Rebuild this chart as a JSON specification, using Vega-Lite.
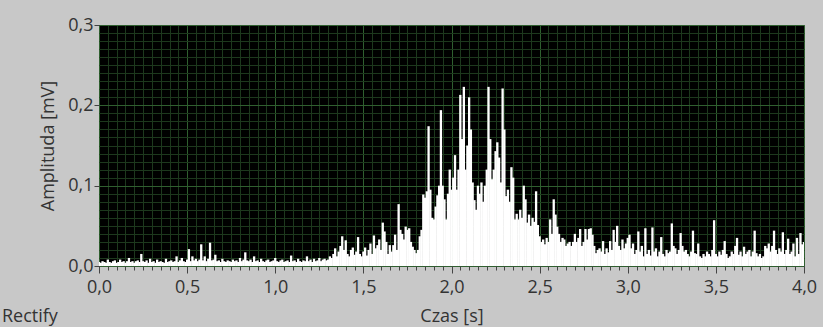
{
"$schema": "https://vega.github.io/schema/vega-lite/v6.json",
"width": 705, "height": 241,
"autosize": "none",
"padding": {"left": 99, "top": 25, "right": 19, "bottom": 61},
"background": "#c8c8c8",
"config": {"view": {"fill": "#000000", "stroke": null}, "font": "Open Sans"},
"title": {"text": "Rectify", "orient": "bottom", "anchor": "start", "frame": "group", "dx": -97, "dy": -21, "fontSize": 18, "fontWeight": "normal", "color": "#333333"},
"data": {"values": [
{"t":0.00,"a":0.005},{"t":0.01,"a":0.004},{"t":0.02,"a":0.006},{"t":0.03,"a":0.005},{"t":0.04,"a":0.004},{"t":0.05,"a":0.008},{"t":0.06,"a":0.005},{"t":0.07,"a":0.004},{"t":0.08,"a":0.006},{"t":0.09,"a":0.007},
{"t":0.10,"a":0.004},{"t":0.11,"a":0.005},{"t":0.12,"a":0.008},{"t":0.13,"a":0.005},{"t":0.14,"a":0.006},{"t":0.15,"a":0.004},{"t":0.16,"a":0.006},{"t":0.17,"a":0.010},{"t":0.18,"a":0.005},{"t":0.19,"a":0.006},
{"t":0.20,"a":0.004},{"t":0.21,"a":0.006},{"t":0.22,"a":0.007},{"t":0.23,"a":0.005},{"t":0.24,"a":0.015},{"t":0.25,"a":0.006},{"t":0.26,"a":0.005},{"t":0.27,"a":0.007},{"t":0.28,"a":0.004},{"t":0.29,"a":0.009},
{"t":0.30,"a":0.005},{"t":0.31,"a":0.006},{"t":0.32,"a":0.004},{"t":0.33,"a":0.008},{"t":0.34,"a":0.005},{"t":0.35,"a":0.006},{"t":0.36,"a":0.005},{"t":0.37,"a":0.004},{"t":0.38,"a":0.009},{"t":0.39,"a":0.005},
{"t":0.40,"a":0.006},{"t":0.41,"a":0.007},{"t":0.42,"a":0.005},{"t":0.43,"a":0.006},{"t":0.44,"a":0.012},{"t":0.45,"a":0.005},{"t":0.46,"a":0.007},{"t":0.47,"a":0.010},{"t":0.48,"a":0.006},{"t":0.49,"a":0.005},
{"t":0.50,"a":0.008},{"t":0.51,"a":0.021},{"t":0.52,"a":0.006},{"t":0.53,"a":0.012},{"t":0.54,"a":0.007},{"t":0.55,"a":0.009},{"t":0.56,"a":0.006},{"t":0.57,"a":0.008},{"t":0.58,"a":0.027},{"t":0.59,"a":0.007},
{"t":0.60,"a":0.012},{"t":0.61,"a":0.006},{"t":0.62,"a":0.009},{"t":0.63,"a":0.029},{"t":0.64,"a":0.007},{"t":0.65,"a":0.008},{"t":0.66,"a":0.014},{"t":0.67,"a":0.006},{"t":0.68,"a":0.007},{"t":0.69,"a":0.005},
{"t":0.70,"a":0.009},{"t":0.71,"a":0.006},{"t":0.72,"a":0.005},{"t":0.73,"a":0.007},{"t":0.74,"a":0.006},{"t":0.75,"a":0.005},{"t":0.76,"a":0.008},{"t":0.77,"a":0.006},{"t":0.78,"a":0.007},{"t":0.79,"a":0.005},
{"t":0.80,"a":0.010},{"t":0.81,"a":0.006},{"t":0.82,"a":0.008},{"t":0.83,"a":0.017},{"t":0.84,"a":0.007},{"t":0.85,"a":0.006},{"t":0.86,"a":0.008},{"t":0.87,"a":0.005},{"t":0.88,"a":0.012},{"t":0.89,"a":0.006},
{"t":0.90,"a":0.007},{"t":0.91,"a":0.005},{"t":0.92,"a":0.009},{"t":0.93,"a":0.006},{"t":0.94,"a":0.005},{"t":0.95,"a":0.007},{"t":0.96,"a":0.008},{"t":0.97,"a":0.005},{"t":0.98,"a":0.006},{"t":0.99,"a":0.007},
{"t":1.00,"a":0.010},{"t":1.01,"a":0.006},{"t":1.02,"a":0.005},{"t":1.03,"a":0.007},{"t":1.04,"a":0.008},{"t":1.05,"a":0.005},{"t":1.06,"a":0.006},{"t":1.07,"a":0.007},{"t":1.08,"a":0.005},{"t":1.09,"a":0.013},
{"t":1.10,"a":0.006},{"t":1.11,"a":0.007},{"t":1.12,"a":0.005},{"t":1.13,"a":0.009},{"t":1.14,"a":0.006},{"t":1.15,"a":0.005},{"t":1.16,"a":0.007},{"t":1.17,"a":0.006},{"t":1.18,"a":0.012},{"t":1.19,"a":0.006},
{"t":1.20,"a":0.008},{"t":1.21,"a":0.005},{"t":1.22,"a":0.009},{"t":1.23,"a":0.006},{"t":1.24,"a":0.007},{"t":1.25,"a":0.010},{"t":1.26,"a":0.006},{"t":1.27,"a":0.008},{"t":1.28,"a":0.009},{"t":1.29,"a":0.007},
{"t":1.30,"a":0.008},{"t":1.31,"a":0.012},{"t":1.32,"a":0.010},{"t":1.33,"a":0.015},{"t":1.34,"a":0.022},{"t":1.35,"a":0.012},{"t":1.36,"a":0.018},{"t":1.37,"a":0.025},{"t":1.38,"a":0.037},{"t":1.39,"a":0.020},
{"t":1.40,"a":0.032},{"t":1.41,"a":0.015},{"t":1.42,"a":0.012},{"t":1.43,"a":0.020},{"t":1.44,"a":0.023},{"t":1.45,"a":0.014},{"t":1.46,"a":0.018},{"t":1.47,"a":0.036},{"t":1.48,"a":0.015},{"t":1.49,"a":0.012},
{"t":1.50,"a":0.018},{"t":1.51,"a":0.023},{"t":1.52,"a":0.013},{"t":1.53,"a":0.020},{"t":1.54,"a":0.028},{"t":1.55,"a":0.015},{"t":1.56,"a":0.038},{"t":1.57,"a":0.022},{"t":1.58,"a":0.026},{"t":1.59,"a":0.033},
{"t":1.60,"a":0.020},{"t":1.61,"a":0.054},{"t":1.62,"a":0.043},{"t":1.63,"a":0.030},{"t":1.64,"a":0.015},{"t":1.65,"a":0.026},{"t":1.66,"a":0.018},{"t":1.67,"a":0.026},{"t":1.68,"a":0.039},{"t":1.69,"a":0.020},
{"t":1.70,"a":0.077},{"t":1.71,"a":0.045},{"t":1.72,"a":0.040},{"t":1.73,"a":0.033},{"t":1.74,"a":0.049},{"t":1.75,"a":0.045},{"t":1.76,"a":0.047},{"t":1.77,"a":0.030},{"t":1.78,"a":0.024},{"t":1.79,"a":0.020},
{"t":1.80,"a":0.016},{"t":1.81,"a":0.020},{"t":1.82,"a":0.037},{"t":1.83,"a":0.045},{"t":1.84,"a":0.089},{"t":1.85,"a":0.085},{"t":1.86,"a":0.093},{"t":1.87,"a":0.174},{"t":1.88,"a":0.095},{"t":1.89,"a":0.060},
{"t":1.90,"a":0.058},{"t":1.91,"a":0.074},{"t":1.92,"a":0.088},{"t":1.93,"a":0.100},{"t":1.94,"a":0.194},{"t":1.95,"a":0.100},{"t":1.96,"a":0.083},{"t":1.97,"a":0.058},{"t":1.98,"a":0.090},{"t":1.99,"a":0.120},
{"t":2.00,"a":0.095},{"t":2.01,"a":0.110},{"t":2.02,"a":0.138},{"t":2.03,"a":0.095},{"t":2.04,"a":0.120},{"t":2.05,"a":0.213},{"t":2.06,"a":0.158},{"t":2.07,"a":0.223},{"t":2.08,"a":0.120},{"t":2.09,"a":0.150},
{"t":2.10,"a":0.210},{"t":2.11,"a":0.170},{"t":2.12,"a":0.104},{"t":2.13,"a":0.082},{"t":2.14,"a":0.070},{"t":2.15,"a":0.100},{"t":2.16,"a":0.090},{"t":2.17,"a":0.104},{"t":2.18,"a":0.080},{"t":2.19,"a":0.100},
{"t":2.20,"a":0.120},{"t":2.21,"a":0.223},{"t":2.22,"a":0.158},{"t":2.23,"a":0.108},{"t":2.24,"a":0.120},{"t":2.25,"a":0.143},{"t":2.26,"a":0.154},{"t":2.27,"a":0.135},{"t":2.28,"a":0.104},{"t":2.29,"a":0.221},
{"t":2.30,"a":0.170},{"t":2.31,"a":0.087},{"t":2.32,"a":0.095},{"t":2.33,"a":0.080},{"t":2.34,"a":0.123},{"t":2.35,"a":0.110},{"t":2.36,"a":0.058},{"t":2.37,"a":0.065},{"t":2.38,"a":0.058},{"t":2.39,"a":0.070},
{"t":2.40,"a":0.060},{"t":2.41,"a":0.100},{"t":2.42,"a":0.083},{"t":2.43,"a":0.054},{"t":2.44,"a":0.064},{"t":2.45,"a":0.050},{"t":2.46,"a":0.060},{"t":2.47,"a":0.055},{"t":2.48,"a":0.093},{"t":2.49,"a":0.051},
{"t":2.50,"a":0.037},{"t":2.51,"a":0.030},{"t":2.52,"a":0.033},{"t":2.53,"a":0.027},{"t":2.54,"a":0.035},{"t":2.55,"a":0.030},{"t":2.56,"a":0.058},{"t":2.57,"a":0.040},{"t":2.58,"a":0.083},{"t":2.59,"a":0.064},
{"t":2.60,"a":0.049},{"t":2.61,"a":0.040},{"t":2.62,"a":0.030},{"t":2.63,"a":0.035},{"t":2.64,"a":0.033},{"t":2.65,"a":0.025},{"t":2.66,"a":0.028},{"t":2.67,"a":0.030},{"t":2.68,"a":0.025},{"t":2.69,"a":0.030},
{"t":2.70,"a":0.040},{"t":2.71,"a":0.030},{"t":2.72,"a":0.035},{"t":2.73,"a":0.046},{"t":2.74,"a":0.025},{"t":2.75,"a":0.030},{"t":2.76,"a":0.046},{"t":2.77,"a":0.033},{"t":2.78,"a":0.046},{"t":2.79,"a":0.047},
{"t":2.80,"a":0.039},{"t":2.81,"a":0.025},{"t":2.82,"a":0.016},{"t":2.83,"a":0.020},{"t":2.84,"a":0.022},{"t":2.85,"a":0.018},{"t":2.86,"a":0.031},{"t":2.87,"a":0.015},{"t":2.88,"a":0.022},{"t":2.89,"a":0.017},
{"t":2.90,"a":0.031},{"t":2.91,"a":0.020},{"t":2.92,"a":0.045},{"t":2.93,"a":0.030},{"t":2.94,"a":0.050},{"t":2.95,"a":0.025},{"t":2.96,"a":0.020},{"t":2.97,"a":0.033},{"t":2.98,"a":0.022},{"t":2.99,"a":0.028},
{"t":3.00,"a":0.035},{"t":3.01,"a":0.039},{"t":3.02,"a":0.022},{"t":3.03,"a":0.028},{"t":3.04,"a":0.015},{"t":3.05,"a":0.020},{"t":3.06,"a":0.043},{"t":3.07,"a":0.018},{"t":3.08,"a":0.025},{"t":3.09,"a":0.012},
{"t":3.10,"a":0.047},{"t":3.11,"a":0.015},{"t":3.12,"a":0.020},{"t":3.13,"a":0.013},{"t":3.14,"a":0.048},{"t":3.15,"a":0.018},{"t":3.16,"a":0.022},{"t":3.17,"a":0.012},{"t":3.18,"a":0.018},{"t":3.19,"a":0.036},
{"t":3.20,"a":0.015},{"t":3.21,"a":0.012},{"t":3.22,"a":0.020},{"t":3.23,"a":0.016},{"t":3.24,"a":0.018},{"t":3.25,"a":0.053},{"t":3.26,"a":0.025},{"t":3.27,"a":0.022},{"t":3.28,"a":0.015},{"t":3.29,"a":0.020},
{"t":3.30,"a":0.041},{"t":3.31,"a":0.025},{"t":3.32,"a":0.018},{"t":3.33,"a":0.020},{"t":3.34,"a":0.015},{"t":3.35,"a":0.012},{"t":3.36,"a":0.018},{"t":3.37,"a":0.044},{"t":3.38,"a":0.016},{"t":3.39,"a":0.015},
{"t":3.40,"a":0.028},{"t":3.41,"a":0.012},{"t":3.42,"a":0.010},{"t":3.43,"a":0.015},{"t":3.44,"a":0.012},{"t":3.45,"a":0.018},{"t":3.46,"a":0.015},{"t":3.47,"a":0.012},{"t":3.48,"a":0.020},{"t":3.49,"a":0.057},
{"t":3.50,"a":0.015},{"t":3.51,"a":0.012},{"t":3.52,"a":0.018},{"t":3.53,"a":0.014},{"t":3.54,"a":0.020},{"t":3.55,"a":0.031},{"t":3.56,"a":0.015},{"t":3.57,"a":0.010},{"t":3.58,"a":0.012},{"t":3.59,"a":0.018},
{"t":3.60,"a":0.015},{"t":3.61,"a":0.025},{"t":3.62,"a":0.035},{"t":3.63,"a":0.014},{"t":3.64,"a":0.018},{"t":3.65,"a":0.012},{"t":3.66,"a":0.024},{"t":3.67,"a":0.015},{"t":3.68,"a":0.018},{"t":3.69,"a":0.020},
{"t":3.70,"a":0.012},{"t":3.71,"a":0.018},{"t":3.72,"a":0.044},{"t":3.73,"a":0.016},{"t":3.74,"a":0.012},{"t":3.75,"a":0.015},{"t":3.76,"a":0.010},{"t":3.77,"a":0.012},{"t":3.78,"a":0.025},{"t":3.79,"a":0.022},
{"t":3.80,"a":0.028},{"t":3.81,"a":0.018},{"t":3.82,"a":0.025},{"t":3.83,"a":0.044},{"t":3.84,"a":0.020},{"t":3.85,"a":0.015},{"t":3.86,"a":0.022},{"t":3.87,"a":0.018},{"t":3.88,"a":0.042},{"t":3.89,"a":0.015},
{"t":3.90,"a":0.020},{"t":3.91,"a":0.034},{"t":3.92,"a":0.015},{"t":3.93,"a":0.018},{"t":3.94,"a":0.028},{"t":3.95,"a":0.012},{"t":3.96,"a":0.035},{"t":3.97,"a":0.015},{"t":3.98,"a":0.041},{"t":3.99,"a":0.027},
{"t":4.00,"a":0.030}
]},
"layer": [
{
"mark": {"type": "rule", "color": "#ffffff", "strokeWidth": 2.3, "clip": true},
"encoding": {
"x": {"field": "t", "type": "quantitative", "scale": {"domain": [0, 4], "nice": false, "zero": false},
"axis": {"orient": "bottom", "values": [0,0.05,0.1,0.15,0.2,0.25,0.3,0.35,0.4,0.45,0.5,0.55,0.6,0.65,0.7,0.75,0.8,0.85,0.9,0.95,1,1.05,1.1,1.15,1.2,1.25,1.3,1.35,1.4,1.45,1.5,1.55,1.6,1.65,1.7,1.75,1.8,1.85,1.9,1.95,2,2.05,2.1,2.15,2.2,2.25,2.3,2.35,2.4,2.45,2.5,2.55,2.6,2.65,2.7,2.75,2.8,2.85,2.9,2.95,3,3.05,3.1,3.15,3.2,3.25,3.3,3.35,3.4,3.45,3.5,3.55,3.6,3.65,3.7,3.75,3.8,3.85,3.9,3.95,4],
"grid": true, "gridColor": "#1d381d", "gridOpacity": 1, "gridWidth": 1, "labels": false, "ticks": true, "tickSize": 4, "tickColor": "#444444", "domain": false, "title": null}},
"y": {"field": "a", "type": "quantitative", "scale": {"domain": [0, 0.3], "nice": false, "zero": true},
"axis": {"orient": "left", "values": [0.01,0.02,0.03,0.04,0.05,0.06,0.07,0.08,0.09,0.11,0.12,0.13,0.14,0.15,0.16,0.17,0.18,0.19,0.21,0.22,0.23,0.24,0.25,0.26,0.27,0.28,0.29],
"grid": true, "gridColor": "#1d381d", "gridOpacity": 1, "gridWidth": 1, "labels": false, "ticks": false, "domain": false, "title": null}},
"y2": {"datum": 0}
}
},
{
"mark": {"type": "point", "opacity": 0},
"encoding": {
"x": {"field": "t", "type": "quantitative",
"axis": {"orient": "bottom", "values": [0,0.5,1,1.5,2,2.5,3,3.5,4], "grid": true, "gridColor": "#2f5f2f", "gridOpacity": 1, "gridWidth": 1,
"labelExpr": "replace(format(datum.value, '.1f'), '.', ',')", "labelFontSize": 18, "labelColor": "#333333", "labelPadding": 5, "labelFlush": false,
"ticks": true, "tickSize": 7, "tickColor": "#444444", "domain": false,
"title": "Czas [s]", "titleFontSize": 18, "titleFontWeight": "normal", "titleColor": "#333333", "titlePadding": 11}},
"y": {"field": "a", "type": "quantitative",
"axis": {"orient": "left", "values": [0,0.1,0.2,0.3], "grid": true, "gridColor": "#2f5f2f", "gridOpacity": 1, "gridWidth": 1,
"labelExpr": "replace(format(datum.value, '.1f'), '.', ',')", "labelFontSize": 18, "labelColor": "#333333", "labelPadding": 1, "labelFlush": false,
"ticks": true, "tickSize": 5, "tickColor": "#444444", "domain": false,
"title": "Amplituda [mV]", "titleFontSize": 18, "titleFontWeight": "normal", "titleColor": "#333333", "titlePadding": 10}}
}
}
],
"resolve": {"axis": {"x": "independent", "y": "independent"}}
}
